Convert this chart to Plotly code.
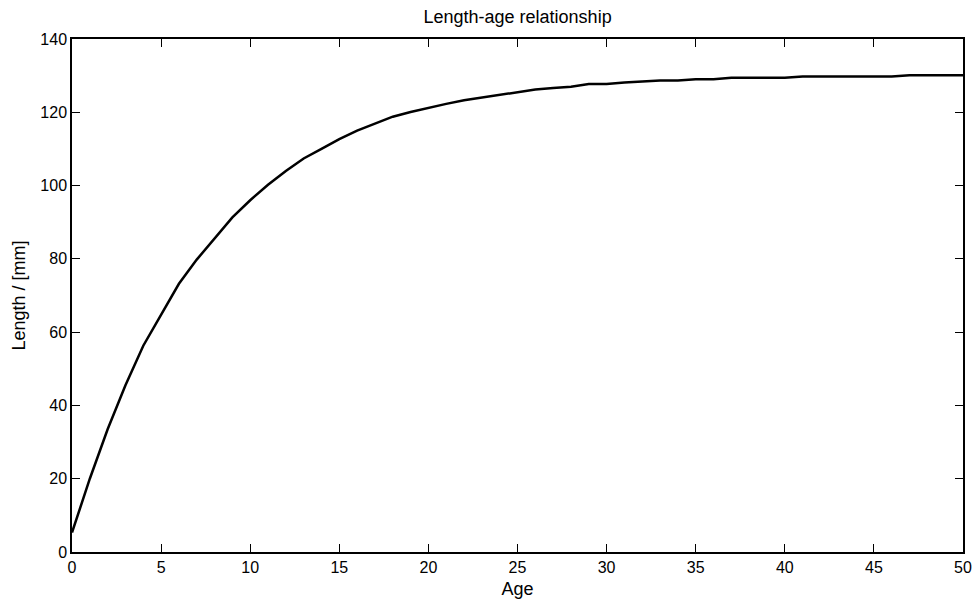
import plotly.graph_objects as go

age = list(range(0, 51))
length_mm = [5.3, 20.0, 33.5, 45.5, 56.3, 64.8, 73.2, 79.8, 85.5, 91.3,
             96.0, 100.2, 104.0, 107.4, 110.0, 112.7, 115.0, 117.0, 118.8, 120.1,
             121.3, 122.3, 123.3, 124.0, 124.7, 125.4, 126.2, 126.6, 127.0, 127.7,
             127.7, 128.1, 128.4, 128.7, 128.7, 129.0, 129.0, 129.4, 129.4, 129.4,
             129.4, 129.8, 129.8, 129.8, 129.8, 129.8, 129.8, 130.1, 130.1, 130.1,
             130.1]
x_ticks = list(range(0, 51, 5))
y_ticks = list(range(0, 141, 20))

fig = go.Figure()
fig.add_trace(go.Scatter(x=age, y=length_mm, mode="lines",
                         line=dict(color="black", width=2.5), showlegend=False))

fam = "Liberation Sans, Arial, sans-serif"
font = dict(family=fam, size=16, color="black")
tfont = dict(family=fam, size=18, color="black")
axis_common = dict(showgrid=False, zeroline=False, showline=True, linecolor="black",
                   linewidth=1.5, mirror="ticks", ticks="inside", ticklen=8,
                   tickwidth=1, tickcolor="black", tickfont=font, automargin=False)

fig.update_layout(
    width=976, height=603,
    margin=dict(l=72, r=13, t=39, b=51),
    paper_bgcolor="white", plot_bgcolor="white",
    font=font,
    title=dict(text="Length-age relationship", x=0.5303, xanchor="center",
               y=0.983, yanchor="top", font=tfont),
    xaxis=dict(range=[0, 50], tickvals=x_ticks, ticktext=[str(v) for v in x_ticks],
               title=dict(text="Age", font=tfont, standoff=7), **axis_common),
    yaxis=dict(range=[0, 140], tickvals=y_ticks, ticktext=[str(v) for v in y_ticks],
               title=dict(text="Length / [mm]", font=tfont, standoff=10), **axis_common),
)

fig.write_html("out.html")
